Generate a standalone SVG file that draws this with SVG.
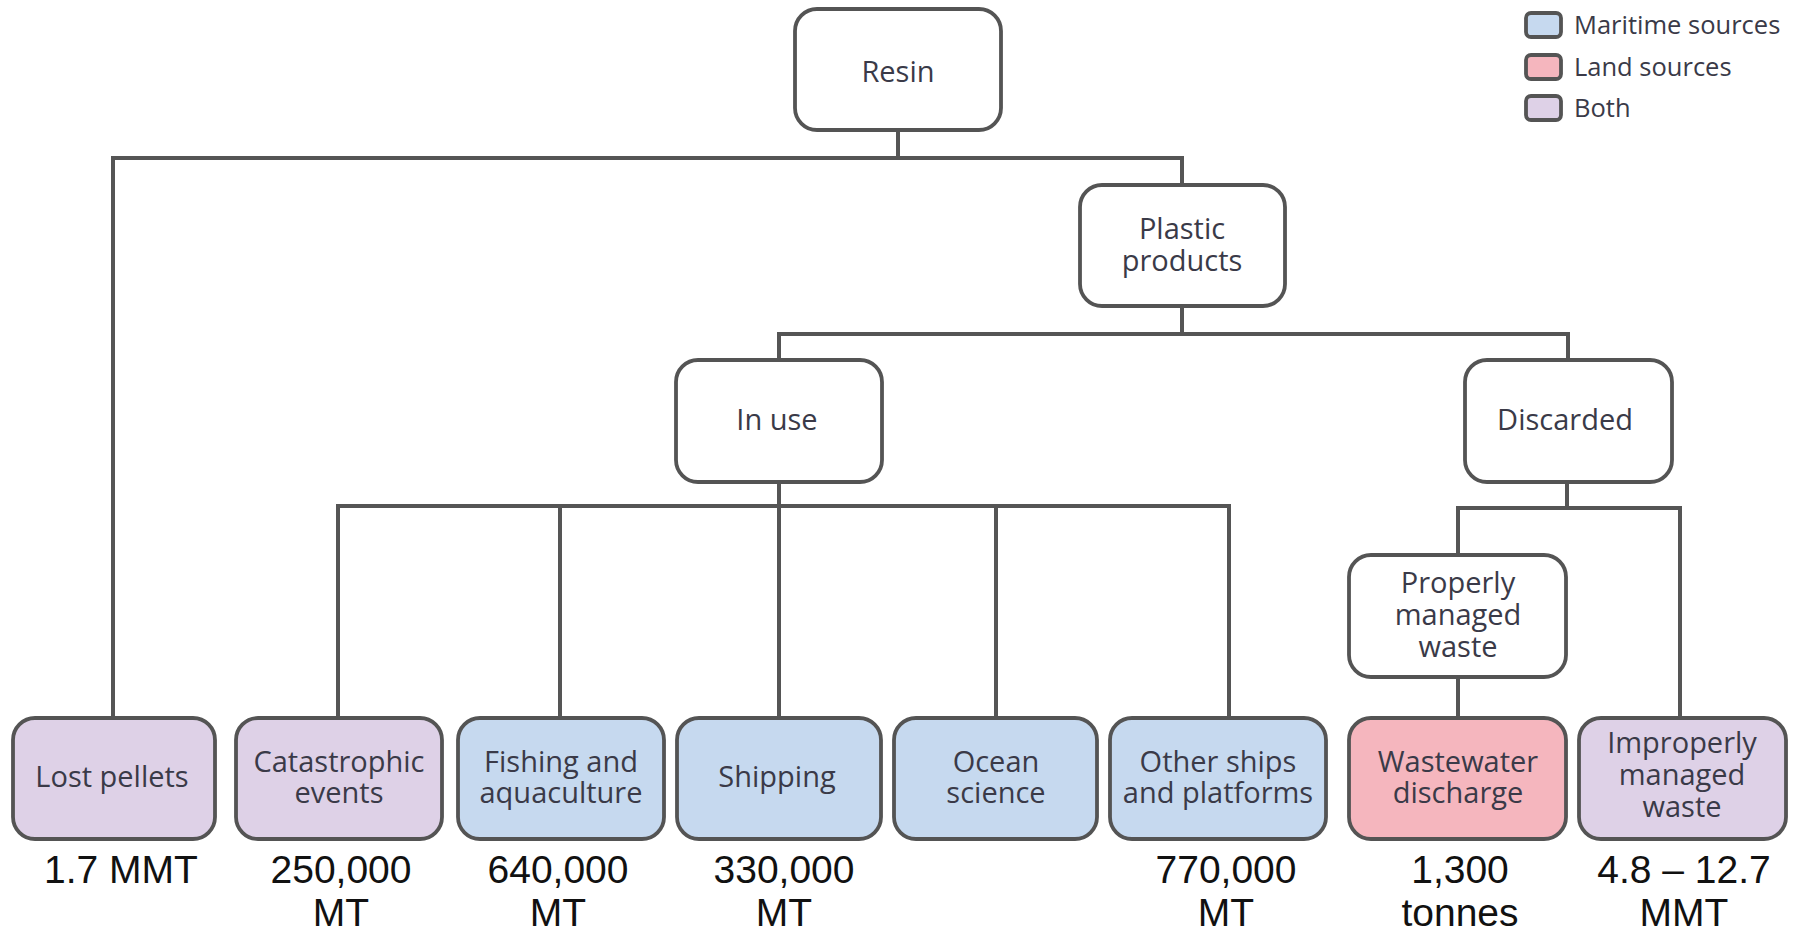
<svg xmlns="http://www.w3.org/2000/svg" width="1799" height="934" viewBox="0 0 1799 934">
<style>
.box{stroke:#545454;stroke-width:3.8}
.w{fill:#fff}
.m{fill:#c6d9ef}
.l{fill:#f5b6be}
.b{fill:#ded1e7}
.t{font-family:"Open Sans","Noto Sans",sans-serif;font-size:29px;fill:#3a3a48;text-anchor:middle}
.lg{font-family:"Open Sans","Noto Sans",sans-serif;font-size:25.5px;fill:#3a3a48}
.n{font-family:"Liberation Sans",Arial,sans-serif;font-size:39px;fill:#111;text-anchor:middle}
.c{fill:none;stroke:#555;stroke-width:4}
</style>
<rect width="1799" height="934" fill="#fff"/>
<g id="connectors" class="c">
<path d="M898 130V158M113 717V158H1182V185"/>
<path d="M1182 306V334M779 360V334H1568V360"/>
<path d="M779 482V506M338 717V506H1229V717M560 506V717M779 506V717M996 506V717"/>
<path d="M1567 482V508M1458 555V508H1680V717"/>
<path d="M1458 677V717"/>
</g>
<g id="resin"><rect class="box w" x="795" y="9" width="206" height="121" rx="22"/><text class="t" x="898" y="82">Resin</text></g>
<g id="plastic"><rect class="box w" x="1080" y="185" width="205" height="121" rx="22"/><text class="t" x="1182" y="239">Plastic</text><text class="t" x="1182" y="271">products</text></g>
<g id="inuse"><rect class="box w" x="676" y="360" width="206" height="122" rx="22"/><text class="t" x="777" y="430">In use</text></g>
<g id="discarded"><rect class="box w" x="1465" y="360" width="207" height="122" rx="22"/><text class="t" x="1565" y="430">Discarded</text></g>
<g id="properly"><rect class="box w" x="1349" y="555" width="217" height="122" rx="22"/><text class="t" x="1458" y="593">Properly</text><text class="t" x="1458" y="625">managed</text><text class="t" x="1458" y="657">waste</text></g>
<g id="lost"><rect class="box b" x="13" y="718" width="202" height="121" rx="22"/><text class="t" x="112" y="787">Lost pellets</text><text class="n" x="121" y="883">1.7 MMT</text></g>
<g id="catastrophic"><rect class="box b" x="236" y="718" width="206" height="121" rx="22"/><text class="t" x="339" y="772">Catastrophic</text><text class="t" x="339" y="803">events</text><text class="n" x="341" y="883">250,000</text><text class="n" x="341" y="926">MT</text></g>
<g id="fishing"><rect class="box m" x="458" y="718" width="206" height="121" rx="22"/><text class="t" x="561" y="772">Fishing and</text><text class="t" x="561" y="803">aquaculture</text><text class="n" x="558" y="883">640,000</text><text class="n" x="558" y="926">MT</text></g>
<g id="shipping"><rect class="box m" x="677" y="718" width="204" height="121" rx="22"/><text class="t" x="777" y="787">Shipping</text><text class="n" x="784" y="883">330,000</text><text class="n" x="784" y="926">MT</text></g>
<g id="ocean"><rect class="box m" x="894" y="718" width="203" height="121" rx="22"/><text class="t" x="996" y="772">Ocean</text><text class="t" x="996" y="803">science</text></g>
<g id="other"><rect class="box m" x="1110" y="718" width="216" height="121" rx="22"/><text class="t" x="1218" y="772">Other ships</text><text class="t" x="1218" y="803">and platforms</text><text class="n" x="1226" y="883">770,000</text><text class="n" x="1226" y="926">MT</text></g>
<g id="wastewater"><rect class="box l" x="1349" y="718" width="217" height="121" rx="22"/><text class="t" x="1458" y="772">Wastewater</text><text class="t" x="1458" y="803">discharge</text><text class="n" x="1460" y="883">1,300</text><text class="n" x="1460" y="926">tonnes</text></g>
<g id="improperly"><rect class="box b" x="1579" y="718" width="207" height="121" rx="22"/><text class="t" x="1682" y="753">Improperly</text><text class="t" x="1682" y="785">managed</text><text class="t" x="1682" y="817">waste</text><text class="n" x="1684" y="883">4.8 – 12.7</text><text class="n" x="1684" y="926">MMT</text></g>
<g id="legend">
<rect class="box m" x="1526" y="13" width="35" height="24" rx="5" stroke-width="3"/><text class="lg" x="1574" y="34">Maritime sources</text>
<rect class="box l" x="1526" y="55" width="35" height="24" rx="5" stroke-width="3"/><text class="lg" x="1574" y="76">Land sources</text>
<rect class="box b" x="1526" y="96" width="35" height="24" rx="5" stroke-width="3"/><text class="lg" x="1574" y="117">Both</text>
</g>
</svg>
